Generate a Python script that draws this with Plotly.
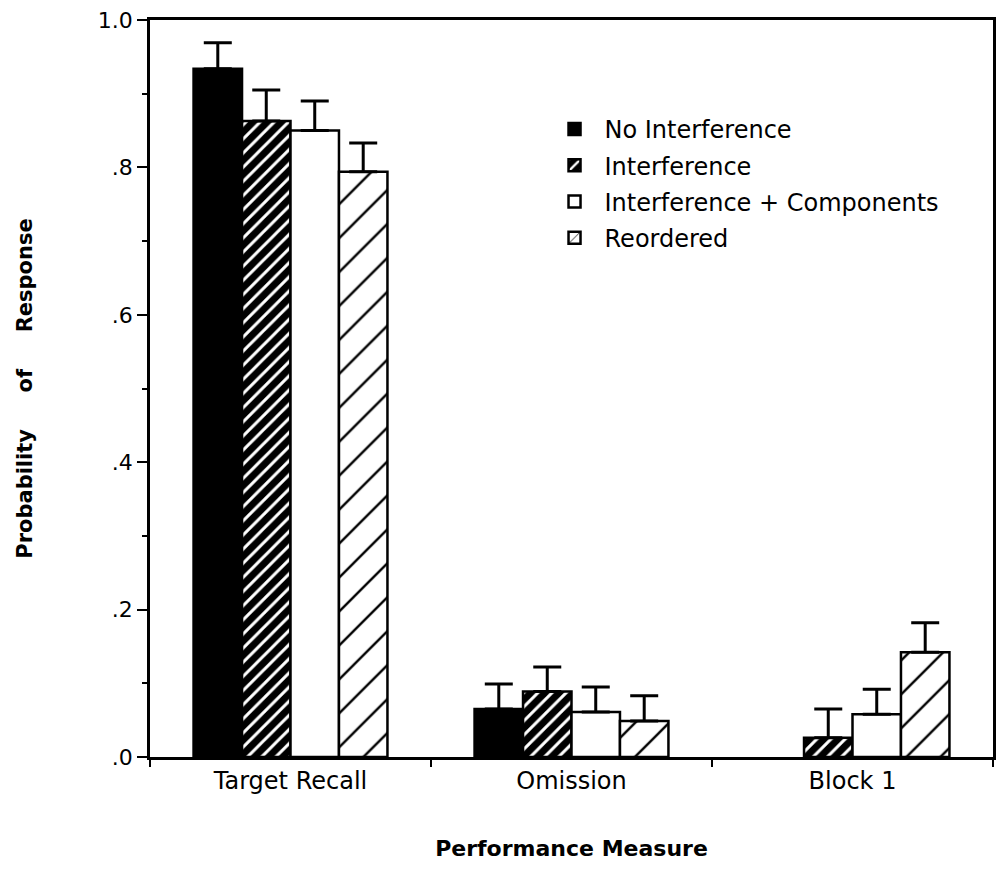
import plotly.graph_objects as go

categories = ["Target\u00a0Recall", "Omission", "Block\u00a01"]
series_names = ["No Interference", "Interference", "Interference + Components", "Reordered"]
no_interference = [0.934, 0.065, None]
no_interference_err = [0.969, 0.099, None]
interference = [0.863, 0.089, 0.026]
interference_err = [0.905, 0.122, 0.065]
int_components = [0.850, 0.061, 0.058]
int_components_err = [0.890, 0.095, 0.092]
reordered = [0.794, 0.049, 0.142]
reordered_err = [0.833, 0.083, 0.182]
y_tickvals = [0, 0.2, 0.4, 0.6, 0.8, 1.0]
y_ticktext = [".0", ".2", ".4", ".6", ".8", "1.0"]

FONT = "DejaVu Sans, Liberation Sans, sans-serif"

styles = [
    dict(color="black", pattern=dict(shape="")),
    dict(color="black", pattern=dict(shape="/", bgcolor="black", fgcolor="white", size=10, solidity=0.3, fillmode="replace")),
    dict(color="white", pattern=dict(shape="")),
    dict(color="white", pattern=dict(shape="/", bgcolor="white", fgcolor="black", size=24, solidity=0.1, fillmode="replace")),
]

values = [no_interference, interference, int_components, reordered]
errs = [no_interference_err, interference_err, int_components_err, reordered_err]

fig = go.Figure()
for i, (name, vals, tops, st) in enumerate(zip(series_names, values, errs, styles)):
    plus = [None if v is None else t - v for v, t in zip(vals, tops)]
    fig.add_trace(go.Bar(
        x=categories, y=vals, name=name, legendgroup=f"g{i}",
        marker=dict(color=st["color"], pattern=st["pattern"], line=dict(color="black", width=2.5)),
        error_y=dict(type="data", array=plus, arrayminus=[0]*len(plus), symmetric=False,
                     color="black", thickness=3, width=14),
    ))

sp = "\u00a0" * 5
fig.update_layout(
    width=1001, height=880,
    margin=dict(l=150, r=5, t=20, b=123),
    paper_bgcolor="white", plot_bgcolor="white",
    barmode="group", bargap=0.31, bargroupgap=0,
    font=dict(family=FONT, size=22, color="black"),
    legend=dict(x=0.468, y=0.882, xanchor="left", yanchor="top",
                font=dict(size=24), itemwidth=50, bgcolor="rgba(0,0,0,0)",
                tracegroupgap=2),
    showlegend=True,
)
fig.update_xaxes(
    range=[-0.5, 2.5], showline=True, linecolor="black", linewidth=2.5, mirror=True,
    ticks="outside", tickson="boundaries", ticklen=7, tickwidth=2, tickcolor="black",
    showgrid=False, tickfont=dict(size=24),
    title=dict(text="<b>Performance Measure</b>", font=dict(size=22), standoff=48),
)
fig.update_yaxes(
    range=[0, 1.0], showline=True, linecolor="black", linewidth=2.5, mirror=True,
    tickvals=y_tickvals, ticktext=y_ticktext, ticks="outside", ticklen=10, tickwidth=2,
    tickcolor="black", showgrid=False, zeroline=False, tickfont=dict(size=22),
    minor=dict(dtick=0.1, ticks="outside", ticklen=5, tickwidth=2, tickcolor="black", showgrid=False),
    title=dict(text=f"<b>Probability{sp}of{sp}Response</b>", font=dict(size=21), standoff=60),
)

fig.write_html("out.html")
